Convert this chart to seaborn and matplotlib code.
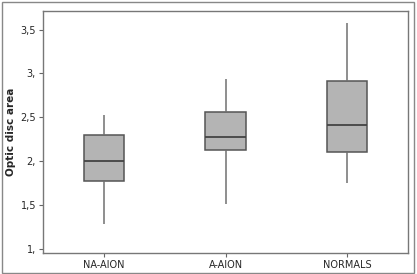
import matplotlib
matplotlib.use('Agg')
import matplotlib.pyplot as plt
import numpy as np
import pandas as pd
import seaborn as sns

groups = ['NA-AION', 'A-AION', 'NORMALS']
# five-number summaries: min, q1, median, q3, max
na_aion = [1.29, 1.78, 2.01, 2.30, 2.53]
a_aion = [1.51, 2.13, 2.28, 2.56, 2.94]
normals = [1.76, 2.11, 2.41, 2.91, 3.57]

yticks = [1.0, 1.5, 2.0, 2.5, 3.0, 3.5]
ylabels = ['1,', '1,5', '2,', '2,5', '3,', '3,5']

df = pd.DataFrame({
    'group': np.repeat(groups, 5),
    'area': na_aion + a_aion + normals,
})

sns.set_style('white')
plt.rcParams['font.family'] = ['DejaVu Sans']

fig = plt.figure(figsize=(4.17, 2.74), dpi=100)
ax = fig.add_axes([43 / 417, 21 / 274, 365 / 417, 242 / 274])

edge = '#555555'
sns.boxplot(
    data=df, x='group', y='area', order=groups,
    whis=(0, 100), width=0.33, showcaps=False, fliersize=0,
    color='#b4b4b4', saturation=1, linewidth=1.1, linecolor=edge,
    whiskerprops={'color': '#707070', 'linewidth': 1.1},
    medianprops={'color': '#444444', 'linewidth': 1.3},
    ax=ax)

ax.set_xlim(-0.5, 2.5)
ax.set_ylim(0.958, 3.711)
ax.set_yticks(yticks)
ax.set_yticklabels(ylabels)
ax.set_xlabel('')
ax.set_ylabel('Optic disc area', fontsize=7.5, fontweight='bold', labelpad=3)
ax.tick_params(axis='both', labelsize=7, length=3, width=0.8, color='#666666',
               left=True, bottom=True, pad=2)
for s in ax.spines.values():
    s.set_color('#777777')
    s.set_linewidth(1.0)

# outer frame around the whole figure
fig.patches.append(plt.Rectangle((2 / 417, 1 / 274), 412 / 417, 271 / 274,
                                 transform=fig.transFigure, fill=False,
                                 edgecolor='#888888', linewidth=1.0))

fig.savefig('out.png', dpi=100)
